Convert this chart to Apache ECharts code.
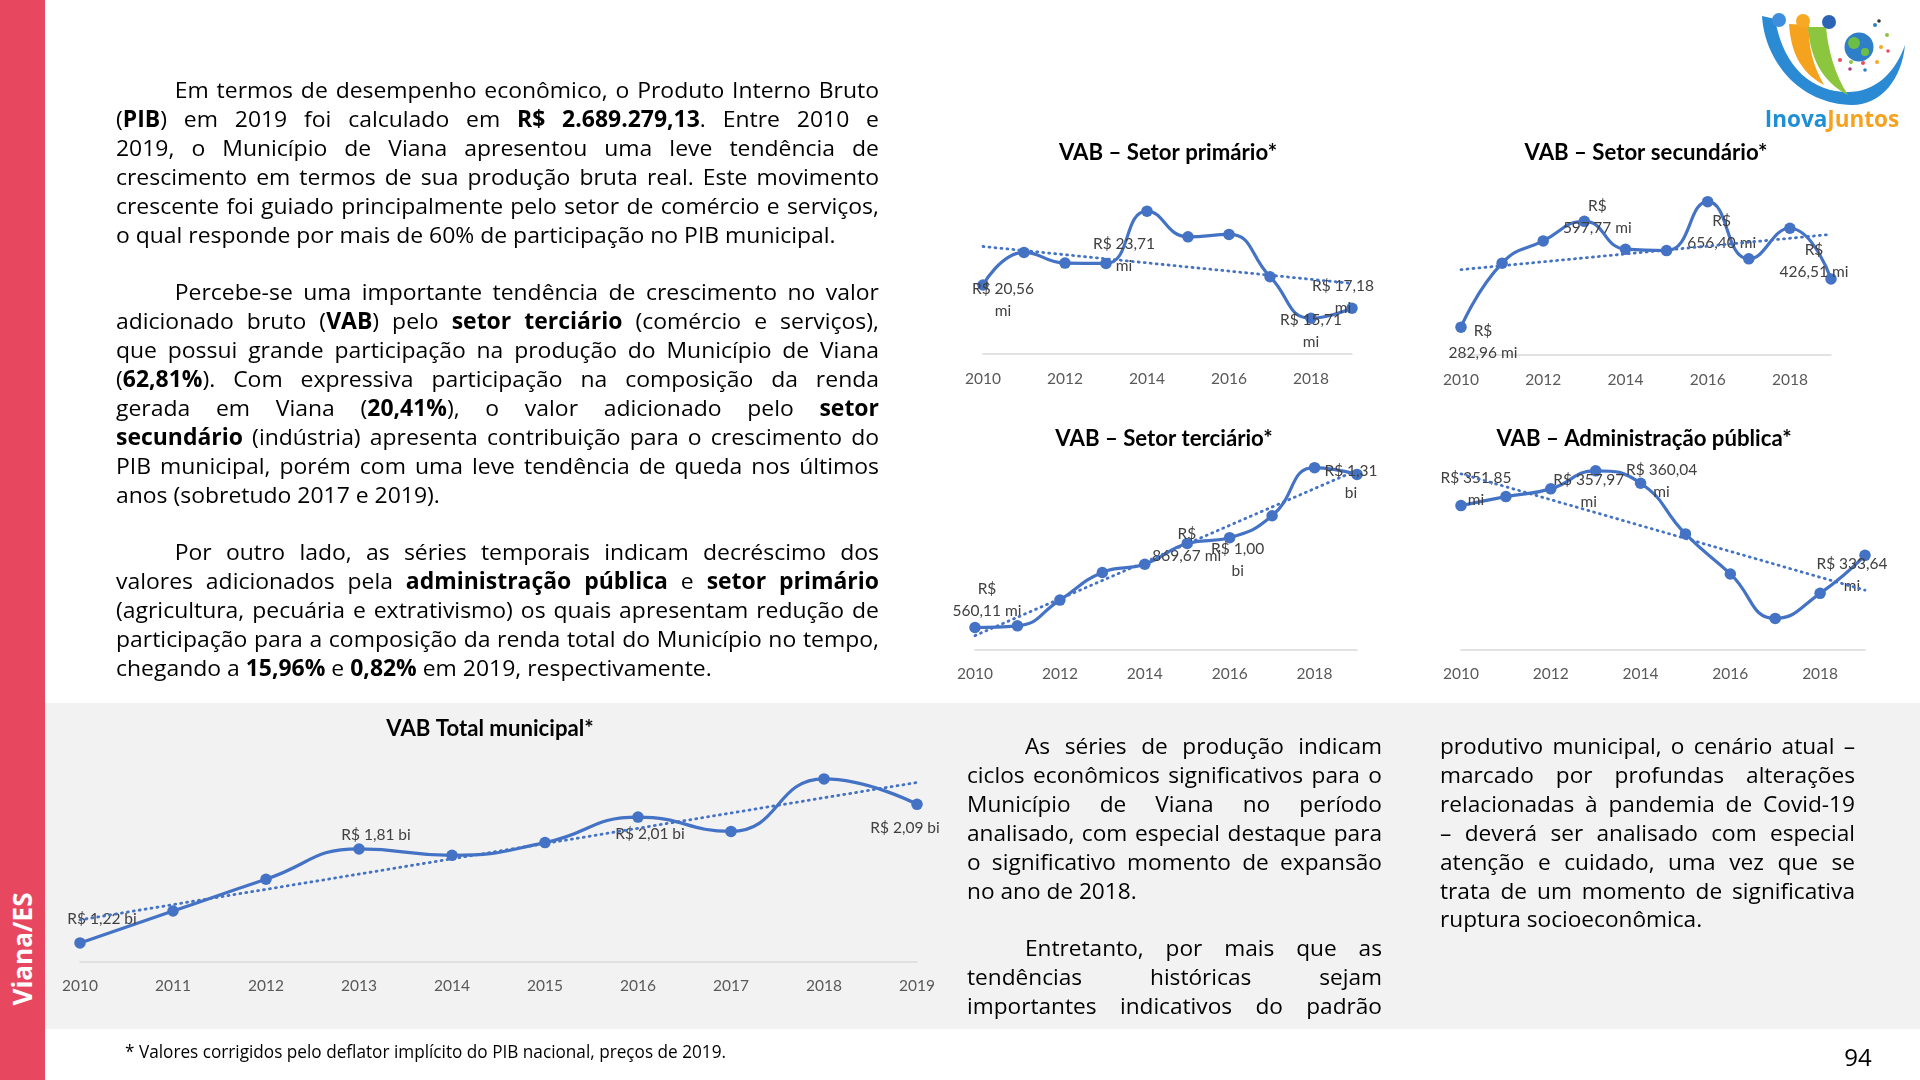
<!DOCTYPE html>
<html>
<head>
<meta charset="utf-8">
<script src="https://cdn.jsdelivr.net/npm/echarts@6/dist/echarts.min.js"></script>
<style>
  html,body{margin:0;padding:0;}
  body{width:1920px;height:1080px;position:relative;overflow:hidden;background:#fff;}
  #band{position:absolute;left:45px;top:703px;width:1875px;height:326px;background:#F2F2F2;}
  #side{position:absolute;left:0;top:0;width:45px;height:1080px;background:#E8485F;}
  #sideTxt{position:absolute;left:22px;top:949px;transform:translate(-50%,-50%) rotate(-90deg);color:#fff;font-family:'Open Sans',sans-serif;font-weight:700;font-size:26px;white-space:nowrap;}
  #chart{position:absolute;left:0;top:0;width:1920px;height:1080px;}
  #logo{position:absolute;left:0;top:0;width:1920px;height:140px;z-index:4;}
  .txt{position:absolute;font-family:'Open Sans',sans-serif;font-size:24px;line-height:28.9px;color:#000;transform-origin:0 0;z-index:5;}
  .ln{white-space:nowrap;}
  .j{text-align:justify;text-align-last:justify;}
  .ind{text-indent:58px;}
  .gap{height:28.9px;}
  #left{left:116px;top:76px;width:763px;}
  #mid{left:967px;top:732px;width:415px;}
  #right{left:1440px;top:732px;width:415px;}
  #foot{position:absolute;left:125px;top:1038px;font-family:'Open Sans',sans-serif;font-size:19px;color:#000;white-space:nowrap;transform-origin:0 0;z-index:5;}
  #page{position:absolute;left:1858px;top:1056px;transform:translate(-50%,-50%);font-family:'Open Sans',sans-serif;font-size:24px;color:#000;z-index:5;}
</style>
</head>
<body>
<div id="band"></div>
<div id="side"></div>
<div id="sideTxt">Viana/ES</div>
<div id="chart"></div>

<svg id="logo" viewBox="0 0 1920 140" xmlns="http://www.w3.org/2000/svg">
  <path d="M1762 16 C1765 62 1800 104 1852 105 C1882 105 1902 78 1905 45 C1895 74 1874 92 1848 92 C1814 92 1784 70 1775 19 Z" fill="#2A8AD4"/>
  <path d="M1789 24 C1791 52 1800 72 1824 85 C1813 66 1808 46 1809 25 Z" fill="#F5A21E"/>
  <path d="M1808 27 C1810 57 1822 82 1848 95 C1835 75 1828 50 1826 27 Z" fill="#8CC63F"/>
  <circle cx="1779" cy="20" r="7" fill="#3D8EDC"/>
  <circle cx="1803" cy="21" r="7" fill="#F7A824"/>
  <circle cx="1829" cy="22" r="7" fill="#2B63B5"/>
  <circle cx="1859" cy="47" r="14.5" fill="#2E7FC8"/>
  <circle cx="1854" cy="43" r="6" fill="#6DBE45"/>
  <circle cx="1865" cy="52" r="4" fill="#6DBE45"/>
  <circle cx="1875" cy="25" r="2" fill="#2E7FC8"/>
  <circle cx="1879" cy="21" r="1.8" fill="#333"/>
  <circle cx="1887" cy="35" r="2" fill="#8CC63F"/>
  <circle cx="1881" cy="47" r="2" fill="#F7A824"/>
  <circle cx="1888" cy="51" r="1.8" fill="#E94B5B"/>
  <circle cx="1840" cy="60" r="2" fill="#E94B5B"/>
  <circle cx="1851" cy="62" r="2" fill="#8CC63F"/>
  <circle cx="1863" cy="63" r="2" fill="#E94B5B"/>
  <circle cx="1877" cy="62" r="2" fill="#F7A824"/>
  <circle cx="1850" cy="69" r="1.8" fill="#B03A8C"/>
  <circle cx="1865" cy="70" r="1.8" fill="#2E7FC8"/>
  <text x="1832" y="127" text-anchor="middle" font-family="Open Sans, sans-serif" font-weight="700" font-size="22.5"><tspan fill="#1E8FD5">Inova</tspan><tspan fill="#F5A21E">Juntos</tspan></text>
</svg>

<div id="left" class="txt">
  <div class="ln j ind">Em termos de desempenho econômico, o Produto Interno Bruto</div>
  <div class="ln j">(<b>PIB</b>) em 2019 foi calculado em <b>R$ 2.689.279,13</b>. Entre 2010 e</div>
  <div class="ln j">2019, o Município de Viana apresentou uma leve tendência de</div>
  <div class="ln j">crescimento em termos de sua produção bruta real. Este movimento</div>
  <div class="ln j">crescente foi guiado principalmente pelo setor de comércio e serviços,</div>
  <div class="ln last" id="L1">o qual responde por mais de 60% de participação no PIB municipal.</div>
  <div class="gap"></div>
  <div class="ln j ind">Percebe-se uma importante tendência de crescimento no valor</div>
  <div class="ln j">adicionado bruto (<b>VAB</b>) pelo <b>setor terciário</b> (comércio e serviços),</div>
  <div class="ln j">que possui grande participação na produção do Município de Viana</div>
  <div class="ln j">(<b>62,81%</b>). Com expressiva participação na composição da renda</div>
  <div class="ln j">gerada em Viana (<b>20,41%</b>), o valor adicionado pelo <b>setor</b></div>
  <div class="ln j"><b>secundário</b> (indústria) apresenta contribuição para o crescimento do</div>
  <div class="ln j">PIB municipal, porém com uma leve tendência de queda nos últimos</div>
  <div class="ln last" id="L2">anos (sobretudo 2017 e 2019).</div>
  <div class="gap"></div>
  <div class="ln j ind">Por outro lado, as séries temporais indicam decréscimo dos</div>
  <div class="ln j">valores adicionados pela <b>administração pública</b> e <b>setor primário</b></div>
  <div class="ln j">(agricultura, pecuária e extrativismo) os quais apresentam redução de</div>
  <div class="ln j">participação para a composição da renda total do Município no tempo,</div>
  <div class="ln last" id="L3">chegando a <b>15,96%</b> e <b>0,82%</b> em 2019, respectivamente.</div>
</div>

<div id="mid" class="txt">
  <div class="ln j ind">As séries de produção indicam</div>
  <div class="ln j">ciclos econômicos significativos para o</div>
  <div class="ln j">Município de Viana no período</div>
  <div class="ln j">analisado, com especial destaque para</div>
  <div class="ln j">o significativo momento de expansão</div>
  <div class="ln last" id="M1">no ano de 2018.</div>
  <div class="gap"></div>
  <div class="ln j ind">Entretanto, por mais que as</div>
  <div class="ln j">tendências históricas sejam</div>
  <div class="ln j">importantes indicativos do padrão</div>
</div>

<div id="right" class="txt">
  <div class="ln j">produtivo municipal, o cenário atual –</div>
  <div class="ln j">marcado por profundas alterações</div>
  <div class="ln j">relacionadas à pandemia de Covid-19</div>
  <div class="ln j">– deverá ser analisado com especial</div>
  <div class="ln j">atenção e cuidado, uma vez que se</div>
  <div class="ln j">trata de um momento de significativa</div>
  <div class="ln last" id="R1">ruptura socioeconômica.</div>
</div>

<div id="foot">* Valores corrigidos pelo deflator implícito do PIB nacional, preços de 2019.</div>
<div id="page">94</div>

<script>
// ---------------- DATA ----------------
const years = ['2010','2011','2012','2013','2014','2015','2016','2017','2018','2019'];
const primario   = [20.56, 25.32, 23.76, 23.71, 31.33, 27.59, 27.94, 21.77, 15.71, 17.18];      // R$ mi
const secundario = [282.96, 473.3, 539.6, 597.77, 514.9, 510.7, 656.40, 486.1, 577.3, 426.51];   // R$ mi
const terciario  = [560.11, 568.4, 694.4, 829.7, 869.67, 971.9, 1000.0, 1107.6, 1342.9, 1310.0]; // R$ mi
const adminPub   = [351.85, 355.15, 357.97, 364.56, 360.04, 341.48, 326.83, 310.57, 319.73, 333.64]; // R$ mi
const total      = [1.22, 1.42, 1.62, 1.81, 1.77, 1.85, 2.01, 1.92, 2.25, 2.09];                  // R$ bi

const titles = ['VAB – Setor primário*','VAB – Setor secundário*','VAB – Setor terciário*','VAB – Administração pública*','VAB Total municipal*'];

// labelled points: [index, line-break mode, dx, dy]
const spotsPrimario   = [[0,'unit',20,15],[3,'unit',18,-8],[8,'unit',0,13],[9,'unit',-9,-11]];
const spotsSecundario = [[0,'rs',22,15],[3,'rs',13,-4],[6,'rs',14,30],[9,'rs',-17,-18]];
const spotsTerciario  = [[0,'rs',12,-28],[4,'rs',42,-19],[6,'unit',8,22],[9,'unit',-6,8]];
const spotsAdmin      = [[0,'unit',15,-17],[2,'unit',38,2],[4,'unit',21,-2],[9,'unit',-13,20]];
const spotsTotal      = [[0,'none',22,-24],[3,'none',17,-14],[6,'none',12,17],[9,'none',-12,24]];

// ---------------- TEXT FITTING ----------------
function natW(el){
  const sp=document.createElement('span');
  sp.style.whiteSpace='nowrap'; sp.style.position='absolute'; sp.style.visibility='hidden'; sp.style.textIndent='0';
  sp.innerHTML=el.innerHTML; el.appendChild(sp);
  const r=sp.getBoundingClientRect().width; el.removeChild(sp); return r;
}
(function fit(){
  const m1=natW(document.getElementById('M1')), r1=natW(document.getElementById('R1'));
  const fs=24*(175+257)/(m1+r1);
  ['left','mid','right'].forEach(id=>document.getElementById(id).style.fontSize=fs+'px');
  const L=document.getElementById('left');
  const l1=natW(document.getElementById('L1')), l2=natW(document.getElementById('L2')), l3=natW(document.getElementById('L3'));
  let s=(721+328+631)/(l1+l2+l3);
  let maxJ=0;
  L.querySelectorAll('.j').forEach(el=>{ const w=natW(el)+(el.classList.contains('ind')?58:0); if(w>maxJ) maxJ=w; });
  s=Math.min(s, 760/(maxJ+4));
  L.style.width=(763/s)+'px'; L.style.transform='scaleX('+s+')';
  const F=document.getElementById('foot');
  const fw=F.getBoundingClientRect().width;
  F.style.transform='scaleX('+(601/fw)+')';
})();

// ---------------- CHARTS ----------------
function trend(arr){
  const n=arr.length; let sx=0,sy=0,sxy=0,sxx=0;
  arr.forEach((y,x)=>{sx+=x;sy+=y;sxy+=x*y;sxx+=x*x;});
  const b=(n*sxy-sx*sy)/(n*sxx-sx*sx), a=(sy-b*sx)/n;
  return arr.map((_,x)=>+(a+b*x).toFixed(4));
}
function fmtLabel(v, unit, brk){
  let u=unit, val=v;
  if(unit==='mi' && v>=1000){ val=v/1000; u='bi'; }
  const num=val.toFixed(2).replace('.',',');
  if(brk==='rs') return 'R$\n'+num+' '+u;
  if(brk==='unit') return 'R$ '+num+'\n'+u;
  return 'R$ '+num+' '+u;
}

const panels = [
  {data:primario,   unit:'mi', spots:spotsPrimario,   grid:{left:983, top:186, width:369, height:168}, min:10.5, max:35,   every:1, margin:17, tx:1168, ty:153},
  {data:secundario, unit:'mi', spots:spotsSecundario, grid:{left:1461,top:187, width:370, height:168}, min:200,  max:700,  every:1, margin:17, tx:1646, ty:153},
  {data:terciario,  unit:'mi', spots:spotsTerciario,  grid:{left:975, top:456, width:382, height:194}, min:450,  max:1400, every:1, margin:16, tx:1164, ty:439},
  {data:adminPub,   unit:'mi', spots:spotsAdmin,      grid:{left:1461,top:456, width:404, height:194}, min:299,  max:370,  every:1, margin:16, tx:1644, ty:439},
  {data:total,      unit:'bi', spots:spotsTotal,      grid:{left:80,  top:755, width:837, height:207}, min:1.1,  max:2.4,  every:0, margin:16, tx:490,  ty:729}
];

const BLUE='#4472C4', FONT='Lato, "Open Sans", sans-serif';
const grid=[], xAxis=[], yAxis=[], series=[], graphic=[];

panels.forEach((p,k)=>{
  grid.push(Object.assign({containLabel:false}, p.grid));
  xAxis.push({type:'category', gridIndex:k, data:years, boundaryGap:false,
    axisLine:{lineStyle:{color:'#D9D9D9', width:1.5}}, axisTick:{show:false}, splitLine:{show:false},
    axisLabel:{color:'#595959', fontFamily:FONT, fontSize:15.5, margin:p.margin, interval:p.every}});
  yAxis.push({type:'value', gridIndex:k, min:p.min, max:p.max, show:false, splitLine:{show:false}});
  const spotMap={}; p.spots.forEach(s=>spotMap[s[0]]=s);
  series.push({type:'line', xAxisIndex:k, yAxisIndex:k, smooth:0.5, symbol:'circle', symbolSize:11.5,
    lineStyle:{color:BLUE, width:3.2}, itemStyle:{color:BLUE}, z:2, label:{show:false},
    data:p.data.map((v,i)=>{
      const s=spotMap[i]; if(!s) return v;
      return {value:v, label:{show:true, position:'inside', align:'center', verticalAlign:'middle',
        offset:[s[2],s[3]], formatter:fmtLabel(v,p.unit,s[1]), color:'#404040', fontFamily:FONT, fontSize:15.5,
        lineHeight:22, textBorderWidth:0}};
    })});
  series.push({type:'line', xAxisIndex:k, yAxisIndex:k, data:trend(p.data), symbol:'none', silent:true, z:3,
    lineStyle:{color:BLUE, width:2.8, type:[1,5], cap:'round'}});
  graphic.push({type:'text', x:p.tx, y:p.ty, style:{text:titles[k], align:'center', verticalAlign:'middle',
    fontFamily:FONT, fontWeight:'bold', fontSize:22.2, fill:'#000'}});
});

const chart = echarts.init(document.getElementById('chart'), null, {renderer:'canvas'});
chart.setOption({animation:false, backgroundColor:'transparent', grid, xAxis, yAxis, series, graphic});
</script>
</body>
</html>
